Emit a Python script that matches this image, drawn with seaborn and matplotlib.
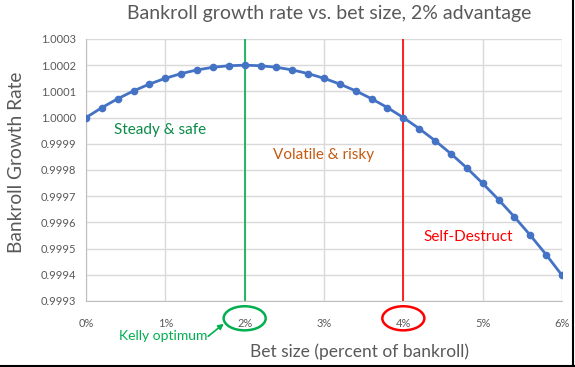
"""
Bankroll growth rate vs. bet size, 2% advantage
Recreated from an Excel-style chart
"""

import numpy as np
import pandas as pd
import matplotlib
matplotlib.use('Agg')
import matplotlib.pyplot as plt
import matplotlib.transforms as mtransforms
from matplotlib.patches import Ellipse
import seaborn as sns

# Data
bet_size = [0.000, 0.002, 0.004, 0.006, 0.008, 0.010, 0.012, 0.014, 0.016, 0.018,
            0.020, 0.022, 0.024, 0.026, 0.028, 0.030, 0.032, 0.034, 0.036, 0.038,
            0.040, 0.042, 0.044, 0.046, 0.048, 0.050, 0.052, 0.054, 0.056, 0.058,
            0.060]
growth_rate = [1.000000, 1.000038, 1.000072, 1.000102, 1.000128, 1.000150, 1.000168,
               1.000182, 1.000192, 1.000198, 1.000200, 1.000198, 1.000192, 1.000182,
               1.000168, 1.000150, 1.000128, 1.000102, 1.000072, 1.000038, 1.000000,
               0.999958, 0.999912, 0.999862, 0.999808, 0.999749, 0.999687, 0.999621,
               0.999551, 0.999477, 0.999398]
x_ticks = [0.00, 0.01, 0.02, 0.03, 0.04, 0.05, 0.06]
x_tick_labels = ['0%', '1%', '2%', '3%', '4%', '5%', '6%']
y_ticks = [0.9993, 0.9994, 0.9995, 0.9996, 0.9997, 0.9998, 0.9999,
           1.0000, 1.0001, 1.0002, 1.0003]
kelly_bet = 0.02
zero_growth_bet = 0.04

df = pd.DataFrame({'bet': bet_size, 'growth': growth_rate})

sns.set_style('white')
plt.rcParams['font.family'] = ['Lato', 'DejaVu Sans']

W, H = 575, 367
fig = plt.figure(figsize=(W / 100, H / 100), dpi=100)
ax = fig.add_axes([86 / W, 1 - 301 / H, (562 - 86) / W, (301 - 39) / H])

text_gray = '#595959'
grid_gray = '#D9D9D9'

ax.set_xlim(0, 0.06)
ax.set_ylim(0.9993, 1.0003)
ax.set_xticks(x_ticks)
ax.set_xticklabels(x_tick_labels)
ax.set_yticks(y_ticks)
ax.set_yticklabels([f'{v:.4f}' for v in y_ticks])
ax.grid(True, color=grid_gray, linewidth=1)
ax.set_axisbelow(True)
for side in ['top', 'right']:
    ax.spines[side].set_visible(False)
for side in ['left', 'bottom']:
    ax.spines[side].set_color('#BFBFBF')
ax.tick_params(axis='both', length=0, labelsize=8, colors=text_gray)
ax.tick_params(axis='x', pad=12)
ax.tick_params(axis='y', pad=7)

# Kelly optimum and zero-growth markers
ax.axvline(kelly_bet, color='#00B050', linewidth=1.2, zorder=2)
ax.axvline(zero_growth_bet, color='#FF0000', linewidth=1.2, zorder=2)

sns.lineplot(data=df, x='bet', y='growth', ax=ax, color='#4472C4',
             linewidth=2, marker='o', markersize=5.5, markeredgewidth=0, zorder=3)

ax.set_xlabel('Bet size (percent of bankroll)', fontsize=12.5, color=text_gray)
ax.xaxis.set_label_coords((360 - 86) / (562 - 86), -(352 - 301) / (301 - 39))
ax.xaxis.label.set_va('center')
ax.set_ylabel('Bankroll Growth Rate', fontsize=13.8, color=text_gray)
ax.yaxis.set_label_coords(-(86 - 17) / (562 - 86), (301 - 162) / (301 - 39))
ax.yaxis.label.set_va('center')
fig.text(329 / W, 1 - 14 / H,
         'Bankroll growth rate vs. bet size, 2% advantage',
         ha='center', va='center', fontsize=14, color=text_gray)

# Region labels
ax.text(0.0093, 0.999953, 'Steady & safe', ha='center', va='center',
        fontsize=11, color='#0A8A48')
ax.text(0.0299, 0.999857, 'Volatile & risky', ha='center', va='center',
        fontsize=11, color='#C55A11')
ax.text(0.0482, 0.999544, 'Self-Destruct', ha='center', va='center',
        fontsize=11, color='#FF0000')

# Circles around the 2% and 4% tick labels
trans = mtransforms.blended_transform_factory(ax.transData, ax.transAxes)
for xc, col in [(kelly_bet, '#00B050'), (zero_growth_bet, '#FF0000')]:
    ax.add_patch(Ellipse((xc, -0.066), width=0.0053, height=0.092,
                         transform=trans, fill=False, edgecolor=col,
                         linewidth=1.8, clip_on=False))

ax.annotate('', xy=(226, H - 322), xycoords='figure pixels',
            xytext=(206, H - 338), textcoords='figure pixels',
            arrowprops=dict(arrowstyle='-|>', color='#00B050', lw=1.2,
                            mutation_scale=8))
fig.text(163 / W, 1 - 336 / H, 'Kelly optimum', ha='center', va='center',
         fontsize=10, color='#00B050')

# Dark edge on right and bottom like the screenshot frame
fig.add_artist(plt.Line2D([0, 1], [0.004, 0.004], color='black', linewidth=1.5,
                          transform=fig.transFigure))
fig.add_artist(plt.Line2D([0.997, 0.997], [0, 1], color='black', linewidth=1.5,
                          transform=fig.transFigure))

fig.savefig('out.png', dpi=100)
